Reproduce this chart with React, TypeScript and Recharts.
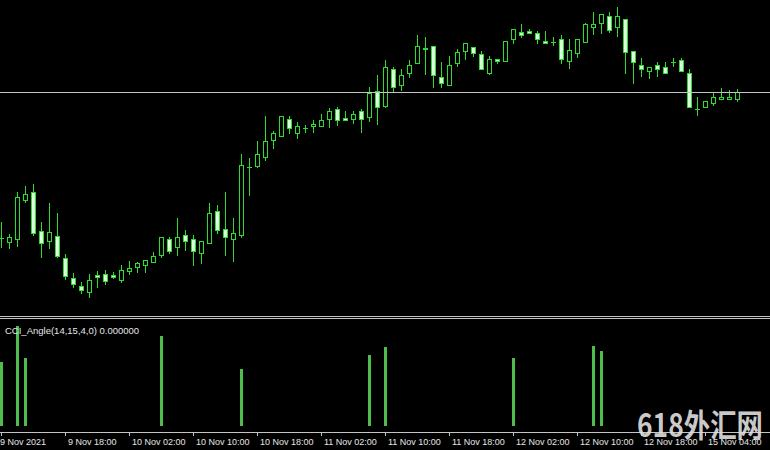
import React from 'react';
import { ComposedChart, Bar, XAxis, YAxis, ReferenceLine } from 'recharts';

const opens = [
  113.210, 113.190, 113.205, 113.400, 113.440, 113.245, 113.195, 113.220, 113.110, 113.010,
  112.970, 112.940, 113.025, 113.030, 113.025, 113.000, 113.045, 113.065, 113.075, 113.090,
  113.125, 113.205, 113.165, 113.225, 113.205, 113.135, 113.185, 113.345, 113.255, 113.205,
  113.225, 113.565, 113.570, 113.615, 113.700, 113.720, 113.805, 113.735, 113.760, 113.770,
  113.770, 113.805, 113.855, 113.810, 113.805, 113.845, 113.815, 113.945, 113.870, 114.055,
  113.975, 114.035, 114.085, 114.160, 114.170, 114.015, 113.975, 114.085, 114.145, 114.165,
  114.130, 114.035, 114.105, 114.095, 114.205, 114.240, 114.245, 114.235, 114.195, 114.190,
  114.205, 114.095, 114.135, 114.190, 114.265, 114.285, 114.320, 114.265, 114.305, 114.145,
  114.075, 114.045, 114.075, 114.065, 114.090, 114.100, 114.035, 113.855, 113.865, 113.885,
  113.905, 113.905, 113.905,
];
const highs = [
  113.290, 113.230, 113.440, 113.470, 113.480, 113.290, 113.385, 113.335, 113.130, 113.035,
  112.990, 113.030, 113.045, 113.050, 113.040, 113.075, 113.095, 113.090, 113.100, 113.140,
  113.215, 113.215, 113.310, 113.250, 113.225, 113.195, 113.385, 113.375, 113.440, 113.310,
  113.630, 113.610, 113.695, 113.820, 113.745, 113.820, 113.820, 113.790, 113.775, 113.800,
  113.830, 113.860, 113.865, 113.845, 113.845, 113.855, 113.965, 114.025, 114.100, 114.065,
  114.055, 114.100, 114.225, 114.215, 114.170, 114.090, 114.120, 114.155, 114.185, 114.165,
  114.145, 114.120, 114.105, 114.195, 114.255, 114.280, 114.255, 114.245, 114.245, 114.215,
  114.225, 114.205, 114.205, 114.285, 114.340, 114.330, 114.340, 114.365, 114.305, 114.145,
  114.110, 114.065, 114.090, 114.090, 114.110, 114.110, 114.055, 113.915, 113.895, 113.935,
  113.960, 113.950, 113.955,
];
const lows = [
  113.165, 113.160, 113.170, 113.390, 113.225, 113.115, 113.160, 113.115, 113.005, 112.965,
  112.935, 112.915, 112.965, 112.980, 113.010, 112.990, 113.030, 113.040, 113.040, 113.090,
  113.115, 113.135, 113.125, 113.150, 113.075, 113.085, 113.185, 113.235, 113.125, 113.095,
  113.215, 113.425, 113.565, 113.600, 113.660, 113.720, 113.735, 113.710, 113.740, 113.740,
  113.770, 113.765, 113.775, 113.800, 113.785, 113.740, 113.795, 113.780, 113.865, 113.940,
  113.950, 114.015, 114.085, 114.030, 113.965, 113.965, 113.975, 114.070, 114.105, 114.120,
  114.055, 114.030, 114.085, 114.095, 114.185, 114.215, 114.235, 114.185, 114.185, 114.175,
  114.085, 114.060, 114.115, 114.190, 114.230, 114.235, 114.240, 114.220, 114.035, 113.985,
  114.020, 114.010, 114.020, 114.035, 114.070, 114.045, 113.865, 113.825, 113.865, 113.875,
  113.905, 113.905, 113.895,
];
const closes = [
  113.210, 113.215, 113.415, 113.430, 113.235, 113.185, 113.240, 113.120, 113.020, 112.980,
  112.950, 113.000, 113.015, 112.995, 113.015, 113.050, 113.060, 113.085, 113.100, 113.120,
  113.215, 113.145, 113.215, 113.195, 113.145, 113.195, 113.335, 113.250, 113.215, 113.235,
  113.575, 113.565, 113.630, 113.695, 113.735, 113.820, 113.760, 113.770, 113.760, 113.780,
  113.800, 113.845, 113.800, 113.800, 113.830, 113.805, 113.935, 113.865, 114.065, 113.965,
  114.025, 114.075, 114.170, 114.155, 114.025, 113.985, 114.075, 114.140, 114.185, 114.135,
  114.055, 114.105, 114.095, 114.195, 114.255, 114.225, 114.235, 114.205, 114.185, 114.190,
  114.105, 114.150, 114.205, 114.280, 114.280, 114.330, 114.250, 114.320, 114.140, 114.090,
  114.055, 114.065, 114.055, 114.035, 114.090, 114.045, 113.865, 113.855, 113.895, 113.915,
  113.915, 113.915, 113.940,
];
const bidPrice = 113.94;

const signalIndex = [0, 2, 3, 20, 30, 46, 48, 64, 74, 75];
const signalValues = [0.64, 1.0, 0.68, 0.9, 0.57, 0.71, 0.79, 0.68, 0.8, 0.75];

const timeTickIndex = [0, 8, 16, 24, 32, 40, 48, 56, 64, 72, 80, 88];
const timeTickLabels = [
  '9 Nov 2021', '9 Nov 18:00', '10 Nov 02:00', '10 Nov 10:00', '10 Nov 18:00', '11 Nov 02:00',
  '11 Nov 10:00', '11 Nov 18:00', '12 Nov 02:00', '12 Nov 10:00', '12 Nov 18:00', '15 Nov 04:00',
];

const candleData = opens.map((o, i) => ({ i, open: o, high: highs[i], low: lows[i], close: closes[i] }));
const signalData = signalIndex.map((i, k) => ({ i, v: signalValues[k] }));

const LINE = '#30dc30';
const BEAR_FILL = '#dcffdc';
const SIGNAL = '#4dbe4d';
const TEXT = '#e6e6e6';
const GRAYLINE = '#c4c4c4';

const X_DOMAIN: [number, number] = [-0.1875, 96.0625];

function Candle(props: any) {
  const { x, width, y, height, payload } = props;
  if (x == null || y == null || !payload) return null;
  const cx = x + width / 2;
  const top = Math.min(y, y + height);
  const h = Math.abs(height);
  const range = payload.high - payload.low;
  const k = range > 0 ? h / range : 0;
  const yOf = (p: number) => top + (payload.high - p) * k;
  const rowH = Math.floor(yOf(payload.high) + 1e-6);
  const rowL = Math.floor(yOf(payload.low) + 1e-6);
  const rowO = Math.floor(yOf(payload.open) + 1e-6);
  const rowC = Math.floor(yOf(payload.close) + 1e-6);
  const px = Math.round(cx - 0.5);
  const wick = <rect x={px} y={rowH} width={1} height={rowL - rowH + 1} fill={LINE} />;
  if (rowO === rowC) {
    return (
      <g>
        {wick}
        <rect x={px - 2} y={rowO} width={5} height={1} fill={LINE} />
      </g>
    );
  }
  const rT = Math.min(rowO, rowC);
  const rB = Math.max(rowO, rowC);
  const bull = payload.close > payload.open;
  return (
    <g>
      {wick}
      <rect
        x={px - 1.5}
        y={rT + 0.5}
        width={4}
        height={rB - rT}
        fill={bull ? '#000000' : BEAR_FILL}
        stroke={LINE}
        strokeWidth={1}
      />
    </g>
  );
}

function SignalBar(props: any) {
  const { x, width, y, height } = props;
  if (x == null || y == null || !height) return null;
  const cx = x + width / 2;
  const top = Math.min(y, y + height);
  const h = Math.abs(height);
  return <rect x={Math.round(cx - 1.5)} y={Math.round(top)} width={3} height={Math.round(h)} fill={SIGNAL} />;
}

function TimeTick(props: any) {
  const { x, y, payload, index } = props;
  const pos = timeTickIndex.indexOf(payload.value);
  const label = pos >= 0 ? timeTickLabels[pos] : '';
  const px = Math.round(x - 0.5);
  return (
    <g>
      <rect x={px} y={Math.round(y)} width={1} height={4} fill={GRAYLINE} />
      <text
        x={index === 0 ? px - 1 : px + 3}
        y={y + 13}
        textAnchor="start"
        fill={TEXT}
        fontSize={9}
        fontFamily="'Liberation Sans', Arial, sans-serif"
      >
        {label}
      </text>
    </g>
  );
}

export default function App() {
  React.useEffect(() => {
    document.body.style.margin = '0';
  }, []);
  return (
    <div
      style={{
        position: 'absolute',
        left: 0,
        top: 0,
        width: 770,
        height: 450,
        background: '#000000',
        overflow: 'hidden',
      }}
    >
      <div style={{ position: 'absolute', left: 0, top: 0 }}>
        <ComposedChart width={770} height={316} data={candleData} margin={{ top: 0, right: 0, bottom: 0, left: 0 }}>
          <XAxis dataKey="i" type="number" domain={X_DOMAIN} allowDataOverflow hide />
          <YAxis type="number" domain={[112.8225, 114.4025]} allowDataOverflow hide />
          <ReferenceLine y={bidPrice} stroke={GRAYLINE} strokeWidth={1} ifOverflow="extendDomain" />
          <Bar
            dataKey={(d: any) => [d.low, d.high]}
            barSize={5}
            shape={(p: any) => <Candle {...p} />}
            isAnimationActive={false}
          />
        </ComposedChart>
      </div>
      <div style={{ position: 'absolute', left: 0, top: 320 }}>
        <ComposedChart width={770} height={130} data={signalData} margin={{ top: 2, right: 0, bottom: 0, left: 0 }}>
          <XAxis
            dataKey="i"
            type="number"
            domain={X_DOMAIN}
            allowDataOverflow
            ticks={timeTickIndex}
            interval={0}
            height={18}
            tickSize={0}
            tickMargin={0}
            tickLine={false}
            axisLine={false}
            tick={(p: any) => <TimeTick {...p} />}
          />
          <YAxis type="number" domain={[-0.06, 1.04]} allowDataOverflow hide />
          <Bar dataKey="v" barSize={3} shape={(p: any) => <SignalBar {...p} />} isAnimationActive={false} />
        </ComposedChart>
      </div>
      <svg
        width={770}
        height={450}
        style={{ position: 'absolute', left: 0, top: 0, pointerEvents: 'none' }}
      >
        <rect x={0} y={316} width={770} height={1} fill={GRAYLINE} />
        <rect x={0} y={318} width={770} height={1} fill={GRAYLINE} />
        <rect x={0} y={432} width={770} height={1} fill={GRAYLINE} />
        <text x={5} y={334} fill={TEXT} fontSize={9.5} fontFamily="'Liberation Sans', Arial, sans-serif">
          CCI_Angle(14,15,4,0) 0.000000
        </text>
        <text
          x={637}
          y={437}
          fill="#dedede"
          fillOpacity={0.92}
          fontSize={32}
          fontWeight={700}
          textLength={126}
          lengthAdjust="spacingAndGlyphs"
          fontFamily="'Noto Sans CJK SC', 'Noto Sans', sans-serif"
        >
          618外汇网
        </text>
      </svg>
    </div>
  );
}
